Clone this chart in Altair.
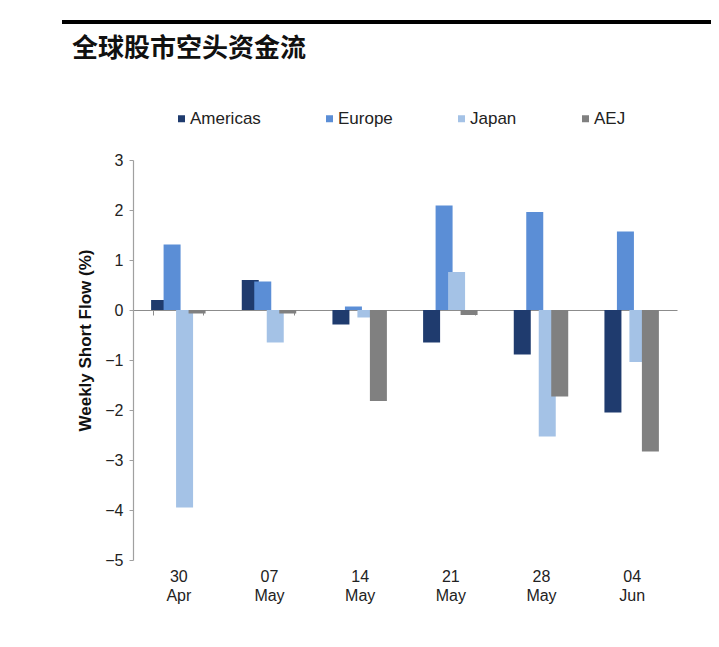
import altair as alt
import pandas as pd

weeks = ["30 Apr", "07 May", "14 May", "21 May", "28 May", "04 Jun"]
series = ["Americas", "Europe", "Japan", "AEJ"]
americas = [0.2, 0.6, -0.29, -0.65, -0.89, -2.05]
europe = [1.31, 0.57, 0.07, 2.09, 1.96, 1.57]
japan = [-3.95, -0.65, -0.15, 0.76, -2.53, -1.04]
aej = [-0.07, -0.07, -1.82, -0.1, -1.73, -2.83]
colors = ["#1F3B6E", "#5B8ED6", "#A4C2E6", "#808080"]
y_ticks = [-5, -4, -3, -2, -1, 0, 1, 2, 3]
title_text = "全球股市空头资金流"

rows = []
for name, vals in zip(series, [americas, europe, japan, aej]):
    for w, v in zip(weeks, vals):
        rows.append({"week": w, "region": name, "value": v})
df = pd.DataFrame(rows)

FONT = "Liberation Sans"

bars = alt.Chart(df).mark_bar(width=17).encode(
    x=alt.X(
        "week:N",
        sort=weeks,
        scale=alt.Scale(paddingInner=0.449, paddingOuter=0.2245),
        axis=alt.Axis(
            title=None,
            orient="bottom",
            offset=-250,
            domainColor="#8c8c8c",
            domainWidth=1.2,
            tickColor="#8c8c8c",
            tickSize=5,
            tickBand="extent",
            labelAngle=0,
            labelPadding=253,
            labelFont=FONT,
            labelFontSize=16,
            labelColor="#222222",
            labelLineHeight=19,
            labelExpr="split(datum.label, ' ')",
        ),
    ),
    xOffset=alt.XOffset(
        "region:N",
        sort=series,
        scale=alt.Scale(paddingInner=0, paddingOuter=0),
    ),
    y=alt.Y(
        "value:Q",
        stack=None,
        scale=alt.Scale(domain=[-5, 3], nice=False, zero=False),
        axis=alt.Axis(
            title="Weekly Short Flow (%)",
            values=y_ticks,
            grid=False,
            domainColor="#a0a0a0",
            domainWidth=1.2,
            tickColor="#a0a0a0",
            tickSize=4,
            labelPadding=6,
            labelFont=FONT,
            labelFontSize=16,
            labelColor="#222222",
            titleFont=FONT,
            titleFontSize=17,
            titleFontWeight="bold",
            titleColor="#111111",
            titleX=-48,
            titleY=180,
            titleAngle=270,
            titleAlign="center",
            titleBaseline="middle",
        ),
    ),
    color=alt.Color(
        "region:N",
        sort=series,
        scale=alt.Scale(domain=series, range=colors),
        legend=alt.Legend(
            title=None,
            orient="none",
            legendX=40,
            legendY=-50,
            direction="horizontal",
            columns=4,
            columnPadding=60,
            symbolType="square",
            symbolSize=49,
            symbolStrokeWidth=0,
            labelOffset=0,
            labelFont=FONT,
            labelFontSize=17,
            labelColor="#222222",
            padding=0,
        ),
    ),
    order=alt.Order("series_order:Q"),
).transform_calculate(
    series_order="indexof(['Americas','Europe','Japan','AEJ'], datum.region)"
)

one_row = "datum.region == 'Americas' && datum.week == '30 Apr'"

top_line = alt.Chart(df).mark_rule(color="#000000", strokeWidth=4).encode(
    x=alt.value(-71), x2=alt.value(578), y=alt.value(-138)
).transform_filter(one_row)

title = alt.Chart(df).mark_text(
    text=title_text,
    font="Noto Sans CJK SC",
    fontSize=26,
    fontWeight="bold",
    color="#111111",
    align="left",
    baseline="middle",
).encode(x=alt.value(-61), y=alt.value(-111)).transform_filter(one_row)

chart = alt.layer(top_line, title, bars).properties(
    width=544,
    height=400,
    autosize=alt.AutoSizeParams(type="none"),
    padding={"left": 125, "top": 152, "right": 34, "bottom": 79},
    view=alt.ViewBackground(stroke="transparent", strokeWidth=0),
).configure_view(stroke="transparent", strokeWidth=0).configure(background="white")

chart.save("out.html", embed_options={"renderer": "svg", "actions": False})
